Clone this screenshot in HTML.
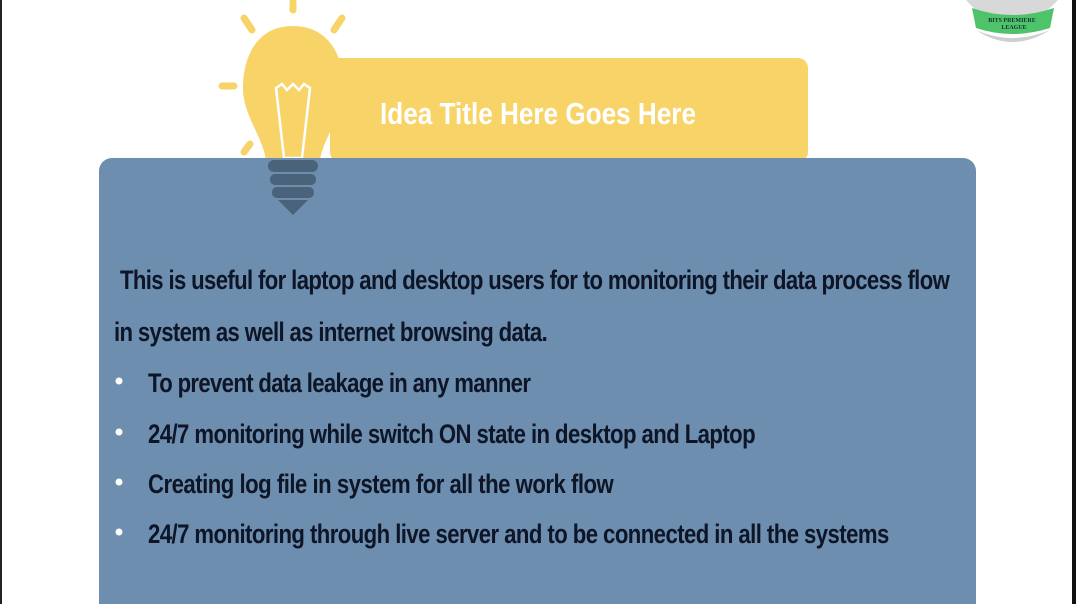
<!DOCTYPE html>
<html><head><meta charset="utf-8"><style>
html,body{margin:0;padding:0;background:#fff;}
svg{display:block}
</style></head><body>
<svg width="1076" height="604" viewBox="0 0 1076 604" xmlns="http://www.w3.org/2000/svg">
<rect width="1076" height="604" fill="#fff"/>
<rect x="0" y="0" width="2" height="604" fill="#222"/>
<rect x="1072" y="0" width="4" height="604" fill="#111"/>
<!-- logo -->
<path d="M966 0 Q1010 50 1058 0 Z" fill="#d8d8d8"/>
<path d="M972 8 Q1012 22 1054 8 L1050 28 Q1012 40 976 28 Z" fill="#4fc36a"/>
<path d="M976 30 Q1012 46 1050 30 Q1012 54 976 30 Z" fill="#cfcfcf"/>
<text x="1012" y="22" font-family="Liberation Serif,serif" font-size="6" font-weight="bold" fill="#133" text-anchor="middle">BITS PREMIERE</text>
<text x="1014" y="29" font-family="Liberation Serif,serif" font-size="6" font-weight="bold" fill="#133" text-anchor="middle">LEAGUE</text>
<!-- yellow banner -->
<rect x="330" y="58" width="478" height="104" rx="10" fill="#f8d468"/>
<!-- rays -->
<g stroke="#f8d468" stroke-width="7" stroke-linecap="round">
<line x1="293" y1="2" x2="293" y2="10"/>
<line x1="244" y1="18" x2="252" y2="30"/>
<line x1="342" y1="18" x2="334" y2="30"/>
<line x1="222" y1="86" x2="234" y2="86"/>
<line x1="352" y1="88" x2="362" y2="88"/>
<line x1="244" y1="152" x2="250" y2="144"/>
<line x1="338" y1="146" x2="344" y2="154"/>
</g>
<!-- bulb -->
<path d="M293 26 C256 26 243 58 243 88 C243 115 262 135 266 160 L320 160 C324 135 344 115 344 88 C344 58 330 26 293 26 Z" fill="#f8d468"/>
<path d="M276 88 L282 84 L287 90 L293 84 L299 90 L304 84 L310 88 L302 158 L284 158 Z" fill="none" stroke="#fff" stroke-width="2.5"/>
<!-- blue panel -->
<rect x="99" y="158" width="877" height="460" rx="13" fill="#6d8eae"/>
<!-- bulb base -->
<rect x="268" y="160" width="50" height="12" rx="6" fill="#4a627a"/>
<rect x="270" y="174" width="46" height="11" rx="5" fill="#4a627a"/>
<rect x="272" y="187" width="42" height="11" rx="5" fill="#4a627a"/>
<path d="M278 200 L308 200 L293 215 Z" fill="#4a627a"/>
<!-- title -->
<text x="380" y="124" font-family="Liberation Sans Narrow,Liberation Sans,sans-serif" font-weight="bold" font-size="31" fill="#fff" textLength="316" lengthAdjust="spacingAndGlyphs">Idea Title Here Goes Here</text>
<g transform="scale(0.82,1)" font-family="Liberation Sans Narrow,Liberation Sans,sans-serif" font-weight="bold" font-size="27" fill="#0d1526" lengthAdjust="spacing">
<text x="146.3" y="289" textLength="1012" lengthAdjust="spacing">This is useful for laptop and desktop users for to monitoring their data process flow</text>
<text x="139" y="341" textLength="529" lengthAdjust="spacing">in system as well as internet browsing data.</text>
<text x="180.5" y="392" textLength="467" lengthAdjust="spacing">To prevent data leakage in any manner</text>
<text x="180.5" y="443" textLength="741" lengthAdjust="spacing">24/7 monitoring while switch  ON state in desktop and Laptop</text>
<text x="180.5" y="493" textLength="568" lengthAdjust="spacing">Creating log file in system  for all the work flow</text>
<text x="180.5" y="543" textLength="904" lengthAdjust="spacing">24/7 monitoring  through live server and to be connected in all the systems</text>
</g>
<g fill="#fff">
<circle cx="119" cy="381" r="3.5"/>
<circle cx="119" cy="432" r="3.5"/>
<circle cx="119" cy="482" r="3.5"/>
<circle cx="119" cy="532" r="3.5"/>
</g>
</svg>
</body></html>
